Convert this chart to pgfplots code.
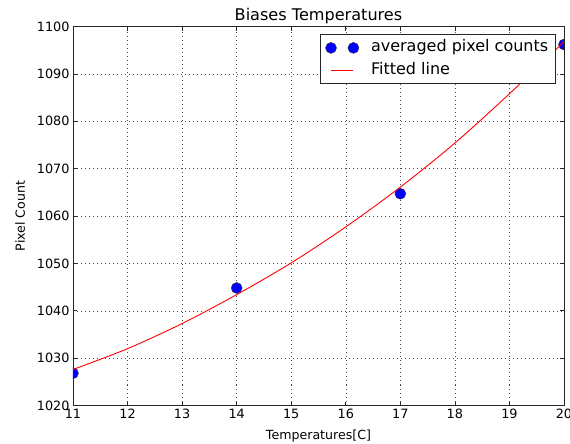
\documentclass[border=0pt]{standalone}
\usepackage{fontspec}
\setmainfont{DejaVu Sans}
\usepackage{pgfplots}
\pgfplotsset{compat=1.18}

% averaged pixel counts at each temperature
\pgfplotstableread{
T   counts
11  1026.8
14  1044.8
17  1064.7
20  1096.2
}\measured

% fitted curve
\pgfplotstableread{
T   fit
11  1027.6
12  1032.0
13  1037.3
14  1043.4
15  1050.1
16  1057.7
17  1066.1
18  1075.4
19  1085.8
20  1096.8
}\fitted

\pgfplotsset{
  twomarks legend/.style={legend image code/.code={
    \path[draw=none, fill=none] (-7.6pt,-6pt) rectangle (36pt,6pt);
    \filldraw[fill=blue, draw=black!80, line width=0.4pt]
      (0pt,0pt) circle[radius=5.5pt] (22.4pt,0pt) circle[radius=5.5pt];}},
  short line legend/.style={legend image code/.code={
    \path[draw=none, fill=none] (-7.6pt,-6pt) rectangle (36pt,6pt);
    \draw[draw=red, line width=0.9pt] (0pt,0pt) -- (22.4pt,0pt);}},
}

\begin{document}
\begin{tikzpicture}
\useasboundingbox (-73pt,-38.5pt) rectangle (497pt,405.5pt);
\begin{axis}[
  at={(0pt,0pt)}, anchor=south west,
  width=491pt, height=379pt, scale only axis,
  xmin=11, xmax=20, ymin=1020, ymax=1100,
  xtick={11,12,...,20},
  ytick={1020,1030,...,1100},
  /pgf/number format/assume math mode=true,
  /pgf/number format/set thousands separator={},
  tick label style={font=\fontsize{12.8}{15}\selectfont},
  label style={font=\fontsize{12.6}{15}\selectfont},
  title style={font=\fontsize{16.1}{18}\selectfont,
    at={(axis description cs:0.5,1)}, anchor=base},
  xlabel style={at={(axis description cs:0.5,-0.0900)}, anchor=base},
  ylabel style={at={(axis description cs:-0.0978,0.5)}, anchor=base},
  title={Biases Temperatures},
  xlabel={Temperatures[C]},
  ylabel={Pixel Count},
  axis line style={black!85, line width=0.9pt},
  tick align=inside,
  major tick length=4pt,
  tick style={black!85, line width=0.6pt},
  grid=major,
  grid style={black!70, line width=0.5pt, dash pattern=on 1pt off 3pt},
  clip marker paths=true,
  legend style={
    at={(0.983,0.979)}, anchor=north east,
    draw=black!85, line width=0.9pt,
    font=\fontsize{16}{18}\selectfont,
    inner xsep=3pt, inner ysep=5pt,
    row sep=7pt,
    nodes={inner xsep=4pt, inner ysep=0pt, text height=12pt, text depth=4pt},
  },
  legend cell align=left,
]
\addplot[only marks, mark=*, mark size=5.5pt,
  mark options={fill=blue, draw=black!80, line width=0.4pt},
  twomarks legend]
  table[x=T, y=counts] {\measured};
\addlegendentry{averaged pixel counts}
\addplot[red, line width=0.9pt, smooth, no marks, short line legend]
  table[x=T, y=fit] {\fitted};
\addlegendentry{Fitted line}
\end{axis}
\end{tikzpicture}
\end{document}
